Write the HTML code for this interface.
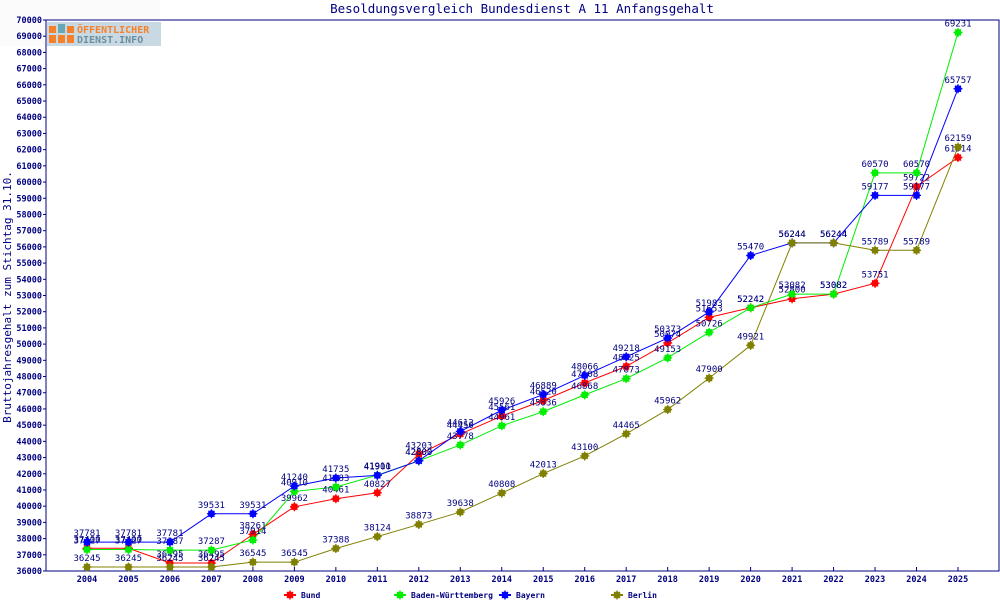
<!DOCTYPE html>
<html><head><meta charset="utf-8"><style>
body{margin:0;background:#fff;width:1000px;height:600px;overflow:hidden}
svg text{font-family:"DejaVu Sans Mono","Liberation Mono",monospace;fill:#000080}
</style></head><body>
<svg id="s" width="1000" height="600" xmlns="http://www.w3.org/2000/svg"></svg>
<script>
const s=document.getElementById('s');
let h='';
const L=46,T=20,R=999,B=571;
const X=y=>87+(y-2004)*41.476;
const Y=v=>T+(70000-v)*(B-T)/34000;
h+=`<rect x="0" y="0" width="160" height="46" fill="#fafbfa"/>`;
h+=`<text x="522" y="13" font-size="12.5" text-anchor="middle">Besoldungsvergleich Bundesdienst A 11 Anfangsgehalt</text>`;
h+=`<rect x="${L}" y="${T}" width="${R-L}" height="${B-T}" fill="#fff" stroke="#000080" stroke-width="1"/>`;
h+=`<rect x="47" y="22" width="114" height="24" fill="#c9d9e3"/>`;
h+=`<rect x="49" y="26" width="7" height="7" fill="#f5822a"/><rect x="58" y="24" width="7" height="9" fill="#6aa7b5"/><rect x="67" y="26" width="7" height="7" fill="#f5822a"/>`;
h+=`<rect x="49" y="35" width="7" height="8" fill="#f5822a"/><rect x="58" y="35" width="7" height="8" fill="#f5822a"/><rect x="67" y="35" width="7" height="8" fill="#f5822a"/>`;
h+=`<text x="77" y="33" font-size="10" font-weight="bold" style="fill:#f5822a" font-family="Liberation Sans">ÖFFENTLICHER</text>`;
h+=`<text x="77" y="43" font-size="10" font-weight="bold" style="fill:#6a8fa0" font-family="Liberation Sans">DIENST.INFO</text>`;
for(let v=36000;v<=70000;v+=1000){const y=Y(v);h+=`<line x1="${L-3}" y1="${y}" x2="${L}" y2="${y}" stroke="#000080"/><text x="${L-4}" y="${y+3}" font-size="8.5" font-weight="bold" text-anchor="end">${v}</text>`;}
for(let yr=2004;yr<=2025;yr++){const x=X(yr);h+=`<line x1="${x}" y1="${B}" x2="${x}" y2="${B-4}" stroke="#000080"/><text x="${x}" y="${B+11}" font-size="8.5" font-weight="bold" text-anchor="middle">${yr}</text>`;}
h+=`<text transform="translate(11,297) rotate(-90)" font-size="11" text-anchor="middle">Bruttojahresgehalt zum Stichtag 31.10.</text>`;
const S=[
['#ff0000',[37400,37400,36495,36495,38261,39962,40461,40827,43203,44450,45561,46520,47608,48625,50074,51653,52242,52800,53082,53751,59722,61514]],
['#00ee00',[37327,37327,37287,37287,37914,40910,41183,41911,42800,43778,44961,45836,46868,47873,49153,50726,52242,53082,53082,60570,60570,69231]],
['#0000ff',[37781,37781,37781,39531,39531,41240,41735,41900,42800,44612,45926,46889,48066,49218,50373,51983,55470,56244,56244,59177,59177,65757]],
['#808000',[36245,36245,36245,36245,36545,36545,37388,38124,38873,39638,40808,42013,43100,44465,45962,47900,49921,56244,56244,55789,55789,62159]]];
function mk(x,y,c){return `<circle cx="${x}" cy="${y}" r="3.5" fill="${c}"/><path d="M${x-4.5} ${y}H${x+4.5}M${x} ${y-4.5}V${y+4.5}M${x-3} ${y-3}L${x+3} ${y+3}M${x-3} ${y+3}L${x+3} ${y-3}" stroke="${c}" stroke-width="1.3"/>`;}
for(const [c,d] of S){let p=d.map((v,i)=>X(2004+i)+','+Y(v)).join(' ');h+=`<polyline points="${p}" fill="none" stroke="${c}" stroke-width="1"/>`;}
for(const [c,d] of S){d.forEach((v,i)=>{const x=X(2004+i),y=Y(v);h+=mk(x,y,c);h+=`<text x="${x}" y="${y-6}" font-size="9" text-anchor="middle">${v}</text>`;});}
const lg=[['Bund','#ff0000',290],['Baden-Württemberg','#00ee00',400],['Bayern','#0000ff',505],['Berlin','#808000',617]];
for(const [n,c,x] of lg){h+=`<line x1="${x-6}" y1="595" x2="${x+6}" y2="595" stroke="${c}" stroke-width="2"/>`+mk(x,595,c)+`<text x="${x+11}" y="598" font-size="8" font-weight="bold">${n}</text>`;}
s.innerHTML=h;
</script>
</body></html>
